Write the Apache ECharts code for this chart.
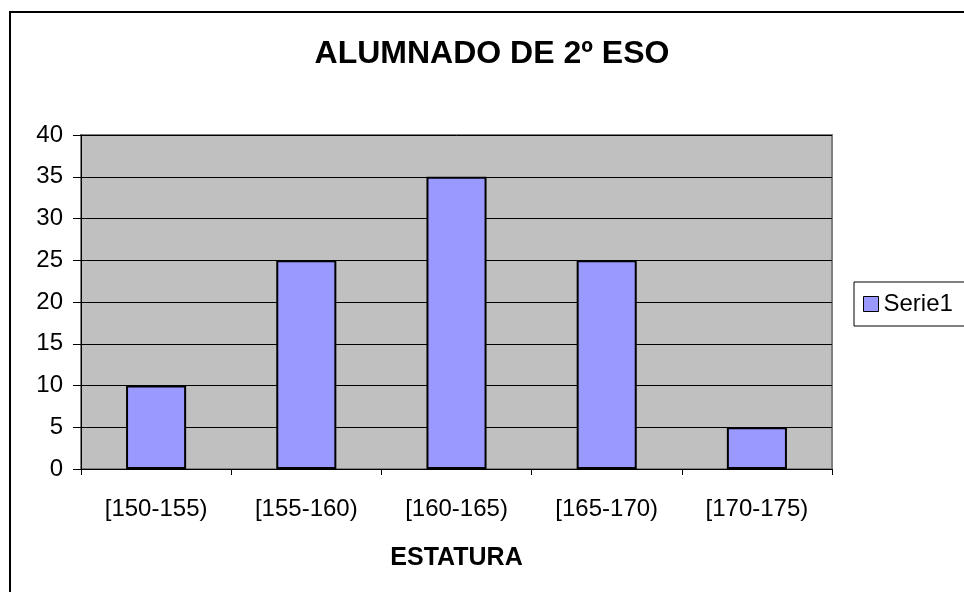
<!DOCTYPE html>
<html>
<head>
<meta charset="utf-8">
<script src="https://cdn.jsdelivr.net/npm/echarts@6/dist/echarts.min.js"></script>
<style>html,body{margin:0;padding:0;background:#fff}#c{width:964px;height:592px}</style>
</head>
<body>
<div id="c"></div>
<script>
var categories = ['[150-155)', '[155-160)', '[160-165)', '[165-170)', '[170-175)'];
var serie1 = [10, 25, 35, 25, 5];
var yTicks = [0, 5, 10, 15, 20, 25, 30, 35, 40];

var chart = echarts.init(document.getElementById('c'));
var font = 'Arial, "Liberation Sans", sans-serif';
chart.setOption({
  animation: false,
  backgroundColor: '#ffffff',
  title: {
    text: 'ALUMNADO DE 2º ESO',
    left: 492, top: 38, textAlign: 'center', padding: 0,
    textStyle: { fontFamily: font, fontSize: 32, fontWeight: 'bold', color: '#000' }
  },
  graphic: [{
    type: 'rect', shape: { x: 10, y: 12, width: 1000, height: 1000 },
    style: { fill: 'none', stroke: '#000', lineWidth: 2 }, z: 100
  }],
  legend: {
    left: 854, top: 282,
    orient: 'vertical',
    backgroundColor: '#fff',
    borderColor: '#000', borderWidth: 1,
    padding: [10, 30, 10, 9],
    itemWidth: 15, itemHeight: 15, itemGap: 4,
    icon: 'rect',
    textStyle: { fontFamily: font, fontSize: 24, color: '#000', padding: [0, 0, 0, 0] },
    data: [{ name: 'Serie1', itemStyle: { borderColor: '#000', borderWidth: 1 } }]
  },
  grid: {
    left: 81, top: 135, width: 751, height: 334,
    show: true, backgroundColor: '#C0C0C0', borderColor: '#808080', borderWidth: 2
  },
  xAxis: {
    type: 'category', data: categories,
    name: 'ESTATURA', nameLocation: 'middle', nameGap: 77,
    nameTextStyle: { fontFamily: font, fontSize: 25, fontWeight: 'bold', color: '#000' },
    axisLine: { lineStyle: { color: '#000', width: 1 } },
    axisTick: { show: true, length: 6, inside: false, lineStyle: { color: '#000' } },
    axisLabel: { fontFamily: font, fontSize: 24, color: '#000', margin: 28 }
  },
  yAxis: {
    type: 'value', min: 0, max: 40, interval: 5,
    axisLine: { show: true, lineStyle: { color: '#000', width: 1 } },
    axisTick: { show: true, length: 8, lineStyle: { color: '#000' } },
    axisLabel: { fontFamily: font, fontSize: 24, color: '#000', margin: 18,
      formatter: function (v) { return yTicks.indexOf(v) >= 0 ? String(v) : ''; } },
    splitLine: { show: true, lineStyle: { color: '#000', width: 1 } }
  },
  series: [{
    name: 'Serie1', type: 'bar', data: serie1,
    barWidth: '40%',
    itemStyle: { color: '#9999FF', borderColor: '#000', borderWidth: 2 }
  }]
});
</script>
</body>
</html>
